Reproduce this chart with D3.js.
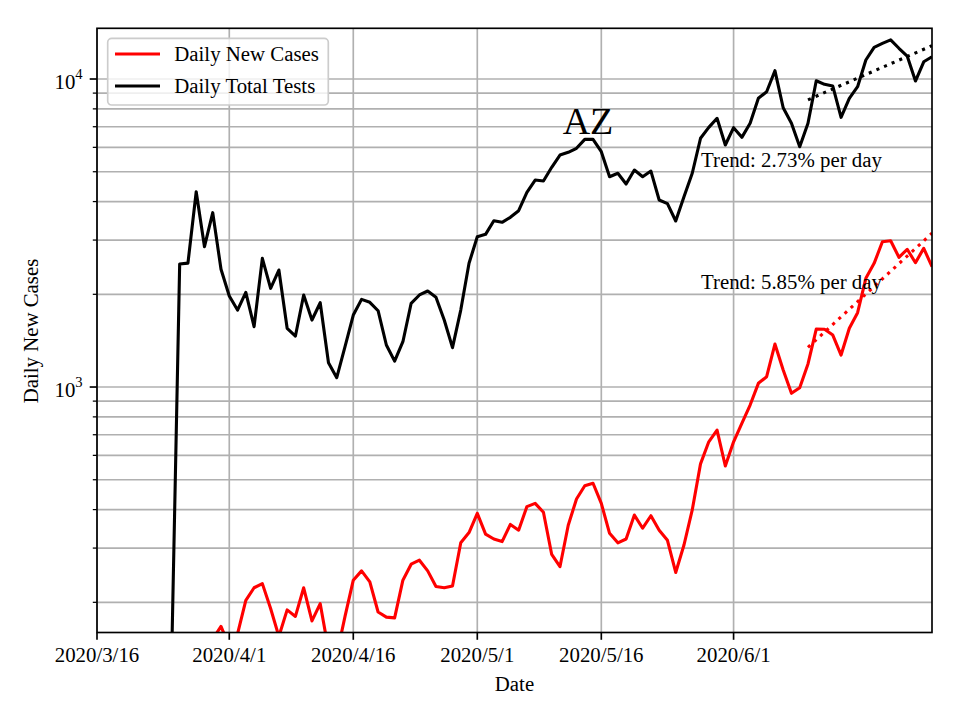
<!DOCTYPE html>
<html><head><meta charset="utf-8">
<script src="https://cdn.jsdelivr.net/npm/d3@7"></script>
<style>
body{margin:0;background:#fff}
svg{display:block}
text{font-family:"Liberation Serif","Times New Roman",Times,serif;fill:#000}
</style>
</head><body>
<svg id="c" width="960" height="720"></svg>
<script>
// ---------------- data ----------------
const startDate = "2020-03-16";
const endDate = "2020-06-25";
const xTickDates = ["2020-03-16","2020-04-01","2020-04-16","2020-05-01","2020-05-16","2020-06-01"];
const xTickLabels = ["2020/3/16","2020/4/1","2020/4/16","2020/5/1","2020/5/16","2020/6/1"];
const yMajorTicks = [1000, 10000];
const yMajorExp = ["3", "4"];
const yMinorTicks = [200,300,400,500,600,700,800,900,2000,3000,4000,5000,6000,7000,8000,9000];

// day offset (from startDate) of the first value of each series
const testsStartDay = 9;
const dailyTests = [
  120, 2507, 2525, 4306, 2855, 3681, 2411, 1975, 1778, 2030,
  1570, 2617, 2091, 2398, 1551, 1464, 1990, 1650, 1878, 1199,
  1072, 1352, 1713, 1926, 1884, 1769, 1369, 1214, 1403, 1870,
  1990, 2050, 1956, 1650, 1342, 1778, 2522, 3076, 3131, 3467,
  3426, 3556, 3737, 4287, 4699, 4667, 5168, 5665, 5781, 5957,
  6368, 6368, 5807, 4815, 4943, 4560, 5064, 4815, 5024, 4047,
  3940, 3460, 4148, 4943, 6421, 6968, 7456, 6107, 6950, 6466,
  7180, 8656, 9095, 10641, 8069, 7180, 6026, 7180, 9874, 9610,
  9486, 7510, 8656, 9441, 11527, 12676, 13055, 13397, 12585, 11876,
  9851, 11376, 11810
];
const casesStartDay = 14;
const dailyCases = [
  152, 167, 144, 158, 203, 223, 230, 191, 155, 189,
  180, 223, 174, 198, 140, 135, 180, 236, 253, 233,
  186, 179, 178, 236, 266, 274, 253, 225, 223, 226,
  312, 337, 389, 333, 321, 315, 358, 343, 409, 419,
  392, 286, 261, 356, 433, 478, 487, 419, 335, 312,
  321, 384, 348, 382, 343, 318, 250, 307, 399, 563,
  664, 725, 554, 664, 762, 874, 1028, 1080, 1379, 1136,
  954, 995, 1188, 1542, 1540, 1475, 1270, 1551, 1743, 2254,
  2521, 2963, 2985, 2637, 2800, 2533, 2820, 2459
];
const testsTrendDays = [86, 101];
const testsTrendValues = [8560, 12830];
const casesTrendDays = [86, 101];
const casesTrendValues = [1346, 3157];
const seriesNames = ["Daily New Cases", "Daily Total Tests"];
const trendTexts = ["Trend: 2.73% per day", "Trend: 5.85% per day"];
const titleText = "AZ";
const xLabel = "Date";
const yLabel = "Daily New Cases";

// ---------------- layout ----------------
const FS = 20.83;
const L = 97, R = 932, T = 28.3, B = 632.5;
const svg = d3.select("#c");
const parse = d3.utcParse("%Y-%m-%d");
const d0 = parse(startDate);
const dayDate = i => d3.utcDay.offset(d0, i);

const x = d3.scaleUtc().domain([d0, parse(endDate)]).range([L, R]);
const y = d3.scaleLog().domain([159.6, 14610]).range([B, T]);

const grid = svg.append("g").attr("stroke", "#b0b0b0").attr("stroke-width", 1.67);
xTickDates.forEach(d => {
  const xx = x(parse(d));
  grid.append("line").attr("x1", xx).attr("x2", xx).attr("y1", T).attr("y2", B);
});
yMajorTicks.concat(yMinorTicks).forEach(v => {
  grid.append("line").attr("x1", L).attr("x2", R).attr("y1", y(v)).attr("y2", y(v));
});

svg.append("defs").append("clipPath").attr("id", "clip")
  .append("rect").attr("x", L).attr("y", T).attr("width", R - L).attr("height", B - T);
const plot = svg.append("g").attr("clip-path", "url(#clip)");

const line = d3.line().x(d => x(d.date)).y(d => y(d.value));
const casesData = dailyCases.map((v, i) => ({date: dayDate(casesStartDay + i), value: v}));
const testsData = dailyTests.map((v, i) => ({date: dayDate(testsStartDay + i), value: v}));

plot.append("path").datum(casesData).attr("d", line)
  .attr("fill", "none").attr("stroke", "#ff0000").attr("stroke-width", 3.1).attr("stroke-linejoin", "round");
plot.append("path").datum(testsData).attr("d", line)
  .attr("fill", "none").attr("stroke", "#000").attr("stroke-width", 3.1).attr("stroke-linejoin", "round");

const tt = testsTrendDays.map((d, i) => ({date: dayDate(d), value: testsTrendValues[i]}));
const ct = casesTrendDays.map((d, i) => ({date: dayDate(d), value: casesTrendValues[i]}));
plot.append("path").datum(tt).attr("d", line).attr("fill", "none")
  .attr("stroke", "#000").attr("stroke-width", 3.1).attr("stroke-dasharray", "3.1,5.2");
plot.append("path").datum(ct).attr("d", line).attr("fill", "none")
  .attr("stroke", "#ff0000").attr("stroke-width", 3.1).attr("stroke-dasharray", "3.1,5.2");

// annotations
svg.append("text").attr("x", 588).attr("y", 133.5).attr("text-anchor", "middle")
  .style("font-size", "38px").text(titleText);
svg.append("text").attr("x", 701).attr("y", 166.5).style("font-size", FS + "px").text(trendTexts[0]);
svg.append("text").attr("x", 701).attr("y", 288.5).style("font-size", FS + "px").text(trendTexts[1]);

// spines
svg.append("rect").attr("x", L).attr("y", T).attr("width", R - L).attr("height", B - T)
  .attr("fill", "none").attr("stroke", "#000").attr("stroke-width", 1.67);

// x ticks
const xt = svg.append("g");
xTickDates.forEach((d, i) => {
  const xx = x(parse(d));
  xt.append("line").attr("x1", xx).attr("x2", xx).attr("y1", B).attr("y2", B + 7.3)
    .attr("stroke", "#000").attr("stroke-width", 1.67);
  xt.append("text").attr("x", xx).attr("y", 662).attr("text-anchor", "middle")
    .style("font-size", FS + "px").text(xTickLabels[i]);
});
// y ticks
const yt = svg.append("g");
yMajorTicks.forEach((v, i) => {
  const yy = y(v);
  yt.append("line").attr("x1", L - 7.3).attr("x2", L).attr("y1", yy).attr("y2", yy)
    .attr("stroke", "#000").attr("stroke-width", 1.67);
  const t = yt.append("text").attr("x", 54.5).attr("y", yy + 9.7).style("font-size", FS + "px");
  t.append("tspan").text("10");
  t.append("tspan").attr("dy", -9.7).style("font-size", "14.6px").text(yMajorExp[i]);
});
yMinorTicks.forEach(v => {
  const yy = y(v);
  yt.append("line").attr("x1", L - 4.2).attr("x2", L).attr("y1", yy).attr("y2", yy)
    .attr("stroke", "#000").attr("stroke-width", 1.25);
});

// axis labels
svg.append("text").attr("x", (L + R) / 2).attr("y", 691).attr("text-anchor", "middle")
  .style("font-size", FS + "px").text(xLabel);
svg.append("text").attr("transform", "translate(38,331) rotate(-90)").attr("text-anchor", "middle")
  .style("font-size", FS + "px").text(yLabel);

// legend
const lg = svg.append("g");
lg.append("rect").attr("x", 107.7).attr("y", 38.3).attr("width", 220.6).attr("height", 66.7)
  .attr("rx", 4).attr("ry", 4).attr("fill", "#fff").attr("fill-opacity", 0.8)
  .attr("stroke", "#cccccc").attr("stroke-width", 1.67);
const lc = ["#ff0000", "#000"];
const ly = [54, 86];
seriesNames.forEach((n, i) => {
  lg.append("line").attr("x1", 115).attr("x2", 160).attr("y1", ly[i]).attr("y2", ly[i])
    .attr("stroke", lc[i]).attr("stroke-width", 3.1);
  lg.append("text").attr("x", 174.3).attr("y", ly[i] + 7.3).style("font-size", FS + "px").text(n);
});
</script>
</body></html>
